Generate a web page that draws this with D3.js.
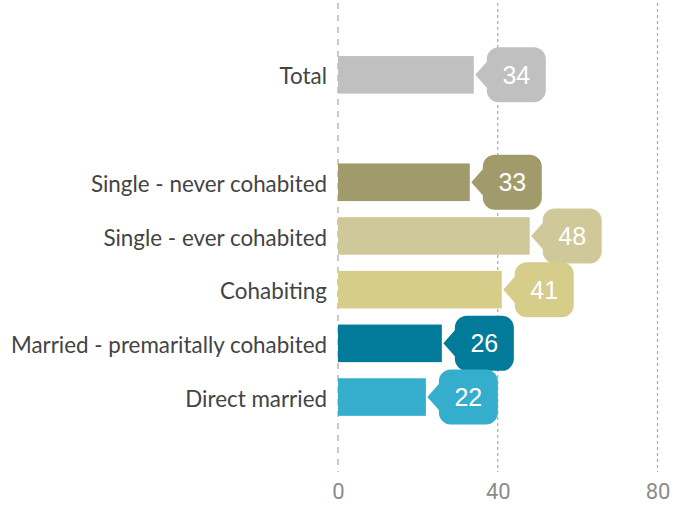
<!DOCTYPE html>
<html><head><meta charset="utf-8">
<script src="https://cdn.jsdelivr.net/npm/d3@7"></script>
<style>
html,body{margin:0;padding:0;background:#fff;}
svg{display:block;}
</style></head>
<body>
<svg id="chart" width="677" height="505"></svg>
<script>
const categories = ["Total", "", "Single - never cohabited", "Single - ever cohabited", "Cohabiting", "Married - premaritally cohabited", "Direct married"];
const values = [34, null, 33, 48, 41, 26, 22];
const colors = ["#c0c0c0", null, "#a19a6a", "#cfc99a", "#d6cd8b", "#017b99", "#35aecd"];
const tickValues = [0, 40, 80];

const svg = d3.select("#chart");
const x = d3.scaleLinear().domain([0, 80]).range([338, 657.5]);
const keys = categories.map((c, i) => i);
const y = d3.scaleBand().domain(keys).range([48, 48 + 53.7 * 7]).paddingInner(0.3).paddingOuter(0.15);

// gridlines
const grid = svg.append("g");
tickValues.forEach(t => {
  grid.append("line")
    .attr("x1", x(t)).attr("x2", x(t))
    .attr("y1", 3).attr("y2", 472)
    .attr("stroke", t === 0 ? "#bdbdbd" : "#a8a8a8")
    .attr("stroke-width", t === 0 ? 1.6 : 1.2)
    .attr("stroke-dasharray", t === 0 ? "6,6" : "3,3");
});

// axis labels
const xAxis = d3.axisBottom(x).tickValues(tickValues).tickSize(0).tickPadding(0);
const ax = svg.append("g").attr("transform", "translate(0,482)").call(xAxis);
ax.select(".domain").remove();
ax.selectAll("text")
  .attr("dy", 0).attr("y", 17)
  .attr("fill", "#8c8c8c")
  .style("font-family", "Roboto, 'Liberation Sans', Arial, sans-serif")
  .style("font-size", "22px");

const data = keys.filter(i => values[i] != null).map(i => ({i, cat: categories[i], v: values[i], c: colors[i]}));

// bars
svg.append("g").selectAll("rect").data(data).join("rect")
  .attr("x", x(0))
  .attr("y", d => y(d.i))
  .attr("width", d => x(d.v) - x(0))
  .attr("height", y.bandwidth())
  .attr("fill", d => d.c);

// category labels
svg.append("g").selectAll("text").data(data).join("text")
  .attr("x", 327)
  .attr("y", d => y(d.i) + y.bandwidth() / 2 + 1.5)
  .attr("dy", "0.36em")
  .attr("text-anchor", "end")
  .attr("fill", "#444")
  .style("font-family", "Lato, 'Noto Sans', sans-serif")
  .style("font-size", "22.4px")
  .text(d => d.cat);

// callouts
const bw = 59, bh = 55, r = 12, ah = 13, gap = 13;
function calloutPath(ex, cy) {
  const p = d3.path();
  const bx = ex + gap, top = cy - bh / 2, bot = cy + bh / 2, right = bx + bw;
  p.moveTo(ex + 1.5, cy);
  p.lineTo(bx, cy - ah);
  p.lineTo(bx, top + r);
  p.arcTo(bx, top, bx + r, top, r);
  p.lineTo(right - r, top);
  p.arcTo(right, top, right, top + r, r);
  p.lineTo(right, bot - r);
  p.arcTo(right, bot, right - r, bot, r);
  p.lineTo(bx + r, bot);
  p.arcTo(bx, bot, bx, bot - r, r);
  p.lineTo(bx, cy + ah);
  p.closePath();
  return p.toString();
}
const cg = svg.append("g").selectAll("g").data(data).join("g");
cg.append("path")
  .attr("d", d => calloutPath(x(d.v), y(d.i) + y.bandwidth() / 2))
  .attr("fill", d => d.c);
cg.append("text")
  .attr("x", d => x(d.v) + gap + bw / 2)
  .attr("y", d => y(d.i) + y.bandwidth() / 2)
  .attr("dy", "0.36em")
  .attr("text-anchor", "middle")
  .attr("fill", "#fff")
  .style("font-family", "'Liberation Sans', Arial, sans-serif")
  .style("font-size", "25px")
  .text(d => d.v);
</script>
</body></html>
